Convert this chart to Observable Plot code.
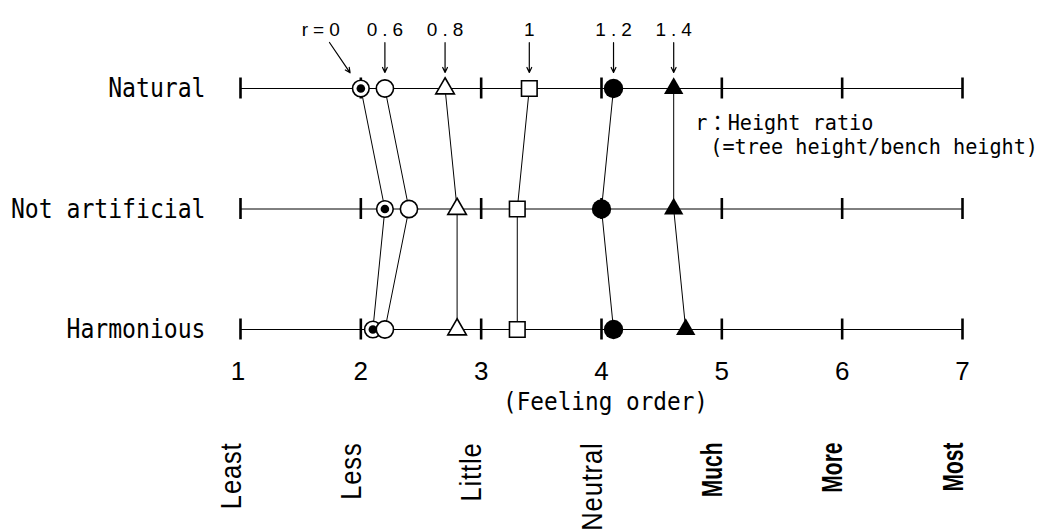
<!DOCTYPE html>
<html>
<head>
<meta charset="utf-8">
<script src="https://cdn.jsdelivr.net/npm/d3@7"></script>
<script src="https://cdn.jsdelivr.net/npm/@observablehq/plot@0.6"></script>
<style>
  body { margin: 0; background: #fff; }
</style>
</head>
<body>
<div id="chart"></div>
<script>
// Evaluated attributes (one horizontal scale line each, top to bottom)
const attributes = ["Natural", "Not artificial", "Harmonious"];

// Height ratio r = tree height / bench height
const ratios = [0, 0.6, 0.8, 1.0, 1.2, 1.4];
const ratioLabels = ["r=0", "0.6", "0.8", "1", "1.2", "1.4"];

// Mean feeling score for each attribute (Natural, Not artificial, Harmonious)
const scoreR00 = [2.0, 2.2, 2.1];
const scoreR06 = [2.2, 2.4, 2.2];
const scoreR08 = [2.7, 2.8, 2.8];
const scoreR10 = [3.4, 3.3, 3.3];
const scoreR12 = [4.1, 4.0, 4.1];
const scoreR14 = [4.6, 4.6, 4.7];

// Seven-step feeling scale
const scaleTicks = [1, 2, 3, 4, 5, 6, 7];
const scaleLabels = ["Least", "Less", "Little", "Neutral", "Much", "More", "Most"];

const axisTitle = "(Feeling order)";
const legendLines = ["r：Height ratio", "(=tree height/bench height)"];

// ---- derived tables ----
const scoreTable = [scoreR00, scoreR06, scoreR08, scoreR10, scoreR12, scoreR14];
const series = ratios.map((r, k) => ({ratio: r, label: ratioLabels[k], scores: scoreTable[k]}));
const points = series.flatMap(s => s.scores.map((v, i) => ({ratio: s.ratio, row: i, score: v})));
const pointsOf = r => points.filter(p => p.ratio === r);
const gridTicks = attributes.flatMap((a, i) => scaleTicks.map(t => ({row: i, tick: t})));
const scalePoints = scaleTicks.map((t, i) => ({tick: t, label: scaleLabels[i]}));

// label row above the first scale line (in row units) and r=0 label shift
const labelRow = -0.488;
const labelX = (s, k) => k === 0 ? s.scores[0] - 0.333 : s.scores[0];

const mono = "'DejaVu Sans Mono', 'Noto Sans CJK JP', monospace";
const sans = "'Liberation Sans', Arial, sans-serif";
const hollow = {fill: "white", stroke: "black", strokeWidth: 1.6};

const chart = Plot.plot({
  width: 1053,
  height: 530,
  marginLeft: 240,
  marginRight: 91,
  marginTop: 88,
  marginBottom: 201,
  x: {domain: [1, 7], axis: null},
  y: {domain: [0, 2], reverse: true, axis: null},
  marks: [
    // scale lines and their integer ticks
    Plot.ruleY(attributes, {y: (d, i) => i, x1: 1, x2: 7, stroke: "black", strokeWidth: 1}),
    Plot.ruleX(gridTicks, {x: "tick", y1: "row", y2: "row", insetTop: -10.5, insetBottom: -10.5, stroke: "black", strokeWidth: 2.6}),

    // profiles connecting the same height ratio across attributes
    Plot.line(points, {x: "score", y: "row", z: "ratio", stroke: "black", strokeWidth: 1}),

    // r = 0 : bullseye
    Plot.dot(pointsOf(0), {x: "score", y: "row", r: 8.3, ...hollow}),
    Plot.dot(pointsOf(0), {x: "score", y: "row", r: 4.3, fill: "black"}),
    // r = 0.6 : open circle
    Plot.dot(pointsOf(0.6), {x: "score", y: "row", r: 8.6, ...hollow}),
    // r = 0.8 : open triangle
    Plot.dot(pointsOf(0.8), {x: "score", y: "row", symbol: "triangle", r: 6.9, ...hollow}),
    // r = 1 : open square
    Plot.dot(pointsOf(1.0), {x: "score", y: "row", symbol: "square", r: 8.8, ...hollow}),
    // r = 1.2 : filled circle
    Plot.dot(pointsOf(1.2), {x: "score", y: "row", r: 9.7, fill: "black"}),
    // r = 1.4 : filled triangle
    Plot.dot(pointsOf(1.4), {x: "score", y: "row", symbol: "triangle", r: 7.2, fill: "black"}),

    // ratio labels with arrows onto the first scale line
    Plot.text(series, {x: labelX, y: () => labelRow, text: "label", dx: 2.5, fontFamily: sans, fontSize: 19}),
    Plot.arrow(series.slice(0, 1), {
      x1: labelX, y1: () => labelRow, x2: s => s.scores[0], y2: () => 0,
      insetStart: 15.5, insetEnd: 19, headLength: 7, headAngle: 50, stroke: "black", strokeWidth: 1.2
    }),
    Plot.arrow(series.slice(1), {
      x1: (s, k) => labelX(s, k + 1), y1: () => labelRow, x2: s => s.scores[0], y2: () => 0,
      insetStart: 13, insetEnd: 16, headLength: 7, headAngle: 50, stroke: "black", strokeWidth: 1.2
    }),

    // attribute names
    Plot.text(attributes, {x: () => 1, y: (d, i) => i, text: d => d, dx: -35, textAnchor: "end", fontFamily: mono, fontSize: 27}),

    // height-ratio note
    Plot.text(legendLines.slice(0, 1), {x: () => 4.78, y: () => 0.29, text: d => d, textAnchor: "start", fontFamily: mono, fontSize: 21}),
    Plot.text(legendLines.slice(1), {x: () => 4.904, y: () => 0.485, text: d => d, textAnchor: "start", fontFamily: mono, fontSize: 21}),

    // numeric scale and its title
    Plot.text(scaleTicks, {x: d => d, frameAnchor: "bottom", dy: 50, text: d => String(d), fontFamily: sans, fontSize: 26}),
    Plot.text([axisTitle], {x: () => 4, frameAnchor: "bottom", dy: 80, dx: 4, text: d => d, fontFamily: mono, fontSize: 24}),

    // verbal scale
    Plot.text(scalePoints.filter(d => d.tick <= 4), {
      x: "tick", text: "label", frameAnchor: "bottom", dy: 113, rotate: -90, textAnchor: "end",
      fontFamily: sans, fontSize: 30
    }),
    Plot.text(scalePoints.filter(d => d.tick >= 5), {
      x: "tick", text: "label", frameAnchor: "bottom", dy: 113, rotate: -90, textAnchor: "end",
      fontFamily: sans, fontSize: 30, fontWeight: "bold"
    })
  ]
});

document.getElementById("chart").append(chart);

// narrow the glyphs of a text element along its reading direction
function condense(selection, k) {
  selection.each(function() {
    const len = this.getComputedTextLength();
    this.setAttribute("textLength", (len * k).toFixed(2));
    this.setAttribute("lengthAdjust", "spacingAndGlyphs");
  });
}

const texts = d3.select(chart).selectAll("text");
const byText = list => texts.filter(function() { return list.includes(this.textContent); });

byText(ratioLabels).style("letter-spacing", "5px");
byText(scaleLabels.slice(0, 4)).style("letter-spacing", "1px");

condense(byText(attributes), 0.855);
condense(byText(legendLines), 0.96);
condense(byText([axisTitle]), 0.946);
condense(byText(scaleLabels.slice(0, 4)), 0.85);
condense(byText(scaleLabels.slice(4)), 0.7);
</script>
</body>
</html>
